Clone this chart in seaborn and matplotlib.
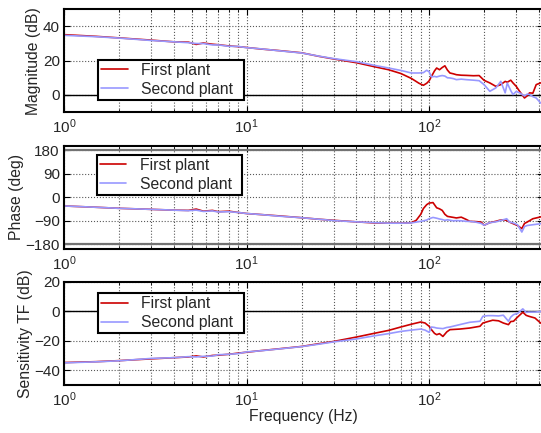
import numpy as np
import pandas as pd
import matplotlib
matplotlib.use("Agg")
import matplotlib.pyplot as plt
import seaborn as sns
from matplotlib.ticker import LogLocator

# ---------------- data ----------------
freq_a = [1, 1.5, 2, 3, 4, 4.8, 5.3, 5.8, 6.5, 7, 8, 9, 10, 12, 15, 20, 25, 30, 40, 50,
          60, 70, 80, 88, 93, 97, 100, 103, 107, 110, 114, 118, 122, 126, 130, 136, 141,
          150, 160, 175, 188, 200, 215, 232, 247, 261, 268, 280, 288, 300, 313, 333, 345,
          355, 370, 386, 408, 418]
mag_first = [35.2, 34.2, 33.3, 32.0, 31.0, 30.8, 29.5, 30.3, 29.6, 29.3, 28.6, 28.2, 27.7,
             26.8, 25.9, 24.6, 22.5, 21.0, 18.8, 16.5, 14.7, 12.5, 9.6, 6.8, 5.6, 6.8, 8.2,
             10.8, 14.0, 15.7, 14.7, 16.0, 17.0, 14.5, 12.8, 12.3, 11.8, 11.5, 11.4, 11.2,
             11.3, 8.5, 7.0, 5.0, 6.0, 7.9, 7.4, 8.6, 7.0, 5.0, 2.1, -1.8, -0.5, 1.2, 1.0,
             6.0, 7.0, 7.2]
mag_second = [34.8, 34.0, 33.2, 31.8, 31.0, 30.5, 30.0, 30.0, 29.2, 29.2, 28.4, 28.3, 27.6,
              26.9, 25.8, 24.5, 22.6, 21.2, 19.4, 17.3, 15.7, 14.3, 12.8, 12.8, 13.0, 14.4,
              13.5, 10.5, 10.8, 10.5, 11.0, 11.3, 11.0, 10.0, 9.9, 9.5, 8.9, 9.2, 8.9, 8.6,
              8.3, 6.0, 2.1, 4.1, 7.9, 1.2, 6.9, 2.5, 0.2, 2.0, 1.2, -0.6, 0.5, 0.2, -1.0,
              -1.8, -4.7, -5.2]

freq_p = [1, 1.5, 2, 3, 4, 4.8, 5.3, 5.8, 6.5, 7, 8, 9, 10, 12, 15, 20, 25, 30, 40, 50,
          60, 70, 80, 85, 90, 93, 97, 100, 105, 110, 114, 118, 122, 126, 136, 141, 150,
          160, 167, 180, 193, 200, 215, 232, 243, 255, 266, 276, 289, 305, 322, 333, 344,
          370, 408, 418]
phase_first = [-33, -38, -42, -46, -49, -50, -45, -53, -50, -55, -53, -58, -62, -66, -71,
               -78, -84, -88, -94, -98, -99, -99, -97, -88, -65, -43, -28, -22, -20, -40,
               -44, -50, -65, -73, -77, -79, -76, -85, -92, -93, -95, -107, -97, -92, -88,
               -86, -88, -95, -101, -108, -120, -100, -95, -82, -75, -74]
phase_second = [-33, -38, -42, -46, -49, -51, -49, -54, -52, -56, -55, -58, -62, -66, -72,
                -78, -84, -89, -94, -97, -99, -99, -98, -95, -92, -90, -87, -82, -77, -80,
                -83, -85, -88, -86, -90, -89, -90, -92, -92, -95, -100, -107, -97, -94, -90,
                -86, -82, -95, -98, -105, -133, -112, -108, -105, -101, -100]

freq_s = [1, 1.5, 2, 3, 4, 4.8, 5.3, 5.8, 6.5, 7, 8, 9, 10, 12, 15, 20, 25, 30, 40, 50,
          60, 70, 80, 90, 95, 100, 103, 107, 110, 114, 119, 125, 130, 147, 167, 190, 197,
          210, 223, 240, 255, 272, 280, 290, 305, 326, 340, 351, 380, 408, 418]
sens_first = [-34.8, -34.2, -33.5, -32.3, -31.5, -31.0, -30.3, -31.0, -30.0, -29.8, -29.2,
              -28.4, -27.8, -26.7, -25.5, -23.9, -22.0, -20.5, -17.5, -15.0, -13.0, -10.7,
              -8.8, -7.3, -8.0, -10.2, -12.5, -15.0, -15.9, -15.2, -17.1, -14.0, -12.5,
              -12.1, -11.4, -10.2, -8.0, -7.0, -6.1, -6.5, -8.0, -9.1, -7.0, -6.8, -4.0,
              -0.7, -2.8, -3.4, -4.6, -8.0, -8.6]
sens_second = [-35.0, -34.3, -33.6, -32.0, -31.5, -30.8, -31.0, -30.6, -30.4, -29.5, -29.2,
               -28.7, -27.6, -26.8, -25.6, -24.0, -22.3, -20.8, -18.8, -16.7, -15.2, -13.7,
               -12.8, -12.1, -12.8, -14.3, -10.7, -11.0, -11.4, -11.6, -11.8, -11.0, -10.7,
               -9.1, -7.5, -6.8, -3.4, -3.0, -3.0, -3.2, -2.7, -6.8, -4.0, -2.3, -1.5, 1.6,
               -0.8, -0.6, -0.6, -0.2, -0.2]

series_names = ["First plant", "Second plant"]
ylabels = ["Magnitude (dB)", "Phase (deg)", "Sensitivity TF (dB)"]
xlabel = "Frequency (Hz)"
xticks = [1, 10, 100]
xticklabels = [r"$10^0$", r"$10^1$", r"$10^2$"]
yticks_list = [[0, 20, 40], [-180, -90, 0, 90, 180], [-40, -20, 0, 20]]
ylims = [(-10, 50), (-197, 197), (-50, 20)]

# ---------------- style ----------------
sns.set_theme(style="white")
plt.rcParams["font.family"] = ["Liberation Sans", "DejaVu Sans"]
plt.rcParams["mathtext.fontset"] = "custom"
plt.rcParams["mathtext.rm"] = "Liberation Sans"
plt.rcParams["mathtext.it"] = "Liberation Sans"
FS = 11

colors = {"First plant": "#CC0000", "Second plant": "#9898FF"}

fig = plt.figure(figsize=(5.41, 4.33), dpi=100)
W = 0.8845
positions = [
    [0.1183, 0.7413, W, 0.2372],
    [0.1183, 0.4256, W, 0.2372],
    [0.1183, 0.1109, W, 0.2385],
]
legend_anchor = [(0.071, 0.117, 0.305, 0.39), (0.068, 0.523, 0.305, 0.39),
                 (0.071, 0.50, 0.305, 0.39)]

panels = [
    (freq_a, mag_first, mag_second),
    (freq_p, phase_first, phase_second),
    (freq_s, sens_first, sens_second),
]

for i, (fr, y1, y2) in enumerate(panels):
    ax = fig.add_axes(positions[i])
    df = pd.DataFrame({
        "f": list(fr) + list(fr),
        "v": list(y1) + list(y2),
        "s": [series_names[0]] * len(fr) + [series_names[1]] * len(fr),
    })
    ax.set_xscale("log")
    sns.lineplot(data=df, x="f", y="v", hue="s", palette=colors, ax=ax,
                 linewidth=1.2, sort=False, estimator=None)
    ax.set_xlim(1, 418)
    ax.set_ylim(*ylims[i])
    ax.set_xticks(xticks)
    ax.set_xticklabels(xticklabels, fontsize=FS)
    ax.xaxis.set_minor_locator(LogLocator(base=10, subs=np.arange(2, 10)))
    ax.set_yticks(yticks_list[i])
    ax.tick_params(axis="y", labelsize=FS, pad=3)
    ax.tick_params(which="both", direction="in", top=True, right=True,
                   bottom=True, left=True, color="black")
    ax.tick_params(which="major", length=4, width=0.8)
    ax.tick_params(which="minor", length=2, width=0.6)
    ax.tick_params(axis="x", pad=4)
    ax.grid(True, which="major", axis="both", linestyle=":", color="0.35", linewidth=0.8)
    ax.grid(True, which="minor", axis="x", linestyle=":", color="0.35", linewidth=0.8)
    for sp in ax.spines.values():
        sp.set_color("black")
        sp.set_linewidth(1.5)
    if i == 1:
        ax.axhline(180, color="0.45", linewidth=1.6, zorder=1)
        ax.axhline(-180, color="0.45", linewidth=1.6, zorder=1)
    else:
        ax.axhline(0, color="black", linewidth=1.0, zorder=1)
    ax.set_ylabel(ylabels[i], fontsize=11.3, labelpad=1)
    if i == 2:
        ax.set_xlabel(xlabel, fontsize=11.3, labelpad=0)
    else:
        ax.set_xlabel("")
    leg = ax.legend(loc="lower left", bbox_to_anchor=legend_anchor[i], mode="expand",
                    fontsize=11.3, frameon=True, fancybox=False, handlelength=1.7,
                    handletextpad=0.85, borderpad=0.2, labelspacing=0.25,
                    borderaxespad=0.0, title=None)
    leg.get_frame().set_edgecolor("black")
    leg.get_frame().set_linewidth(1.5)
    leg.get_frame().set_facecolor("white")
    leg.get_frame().set_alpha(1.0)

fig.savefig("out.png", dpi=100)
